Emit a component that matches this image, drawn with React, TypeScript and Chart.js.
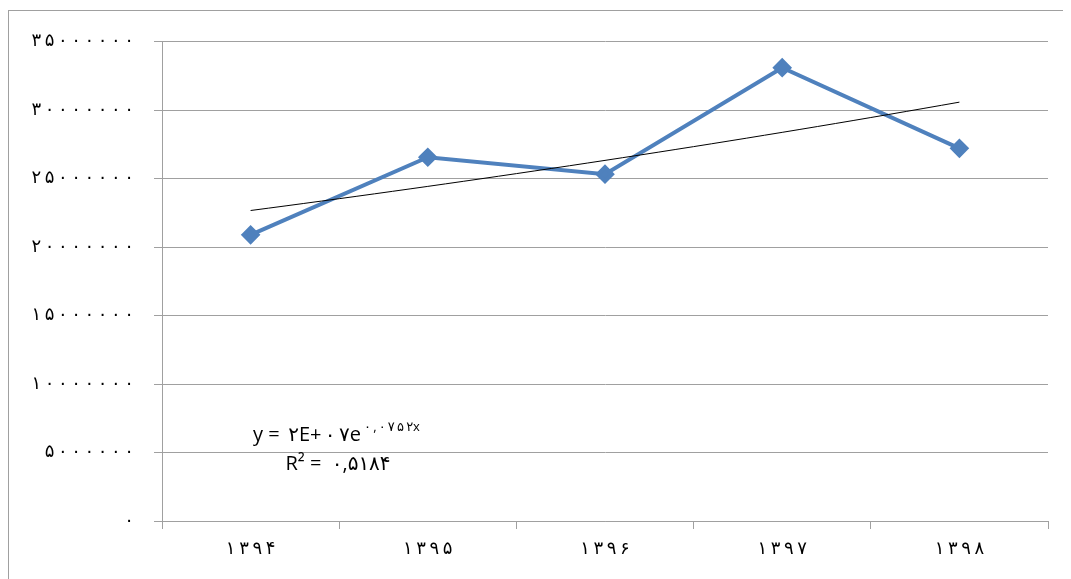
import React, { useEffect, useRef } from "react";
import { Chart, registerables } from "chart.js";

Chart.register(...registerables);

const categories = ["۱۳۹۴", "۱۳۹۵", "۱۳۹۶", "۱۳۹۷", "۱۳۹۸"];
const values = [20900000, 26570000, 25330000, 33110000, 27220000];
const yMin = 0;
const yMax = 35000000;
const yStep = 5000000;
const equationMain = "y = ۲E+۰۷e";
const equationExp = "۰,۰۷۵۲x";
const rSquaredText = "R² =  ۰,۵۱۸۴";

const faDigits = ["۰", "۱", "۲", "۳", "۴", "۵", "۶", "۷", "۸", "۹"];
const toFa = (v: number) => String(v).replace(/[0-9]/g, (d) => faDigits[+d]);
const spaced = (s: string) => s.split("").join("\u2009");
const spaceDigits = (s: string) => s.replace(/([۰-۹,])/g, "\u2009$1");

// exponential least-squares fit (as a spreadsheet trendline does)
function expFit(ys: number[]) {
  const n = ys.length;
  const xs = ys.map((_, i) => i + 1);
  const ls = ys.map((y) => Math.log(y));
  const mx = xs.reduce((a, b) => a + b, 0) / n;
  const ml = ls.reduce((a, b) => a + b, 0) / n;
  let num = 0;
  let den = 0;
  for (let i = 0; i < n; i++) {
    num += (xs[i] - mx) * (ls[i] - ml);
    den += (xs[i] - mx) * (xs[i] - mx);
  }
  const b = num / den;
  const a = Math.exp(ml - b * mx);
  return { a, b };
}

const CANVAS_W = 1057;
const CANVAS_H = 568;

export default function App() {
  const ref = useRef<HTMLCanvasElement | null>(null);

  useEffect(() => {
    if (!ref.current) return;
    const { a, b } = expFit(values);
    const trend: { x: number; y: number }[] = [];
    for (let k = 0; k <= 40; k++) {
      const x = 1 + (k * (values.length - 1)) / 40;
      trend.push({ x, y: a * Math.exp(b * x) });
    }

    const eqPlugin = {
      id: "eq",
      afterDraw(chart: any) {
        const ctx = chart.ctx;
        const ca = chart.chartArea;
        ctx.save();
        ctx.fillStyle = "#000";
        ctx.textBaseline = "alphabetic";
        ctx.textAlign = "left";
        const mainFont = "20px 'Open Sans', 'DejaVu Sans', sans-serif";
        const expFont = "13px 'Open Sans', 'DejaVu Sans', sans-serif";
        const main = spaceDigits(equationMain);
        const exp = spaceDigits(equationExp);
        ctx.font = mainFont;
        const w1 = ctx.measureText(main).width;
        ctx.font = expFont;
        const w2 = ctx.measureText(exp).width;
        const cx = ca.left + 174;
        const x0 = cx - (w1 + w2) / 2;
        const y0 = ca.top + 399;
        ctx.font = mainFont;
        ctx.fillText(main, x0, y0);
        ctx.font = expFont;
        ctx.fillText(exp, x0 + w1 + 1, y0 - 10);
        ctx.font = mainFont;
        ctx.textAlign = "center";
        ctx.fillText(rSquaredText, cx + 2, y0 + 29);
        ctx.restore();
      },
    };

    const chart = new Chart(ref.current, {
      type: "line",
      data: {
        labels: categories,
        datasets: [
          {
            data: values,
            borderColor: "#4F81BD",
            backgroundColor: "#4F81BD",
            borderWidth: 4,
            pointStyle: "rectRot",
            pointRadius: 7,
            pointBackgroundColor: "#4F81BD",
            pointBorderColor: "#4F81BD",
            tension: 0,
            xAxisID: "x",
            order: 1,
          },
          {
            data: trend as any,
            borderColor: "#000000",
            borderWidth: 1,
            pointRadius: 0,
            tension: 0,
            xAxisID: "x2",
            order: 0,
          },
        ],
      },
      options: {
        responsive: false,
        animation: false,
        layout: { padding: { top: 28, right: 18, left: 0, bottom: 0 } },
        plugins: {
          legend: { display: false },
          tooltip: { enabled: false },
          title: { display: false },
        },
        scales: {
          x: {
            type: "category",
            offset: true,
            afterFit: (s: any) => {
              s.height = 58;
            },
            grid: {
              offset: true,
              drawOnChartArea: false,
              drawTicks: true,
              tickLength: 8,
              color: "#A0A0A0",
            },
            border: { color: "#A0A0A0", width: 1 },
            ticks: {
              color: "#000",
              padding: 10,
              maxRotation: 0,
              font: { family: "'DejaVu Sans'", size: 18 },
              callback: (_v: any, i: number) => spaced(categories[i]),
            },
          },
          x2: {
            type: "linear",
            display: false,
            min: 0.5,
            max: values.length + 0.5,
          },
          y: {
            min: yMin,
            max: yMax,
            afterFit: (s: any) => {
              s.width = 153;
            },
            grid: {
              color: "#A0A0A0",
              tickLength: 8,
              drawTicks: true,
            },
            border: { color: "#A0A0A0", width: 1 },
            ticks: {
              stepSize: yStep,
              color: "#000",
              padding: 20,
              font: { family: "'DejaVu Sans'", size: 18 },
              callback: (v: any) => spaced(toFa(Number(v))),
            },
          },
        },
      },
      plugins: [eqPlugin],
    });
    return () => chart.destroy();
  }, []);

  return (
    <div style={{ marginTop: 2, width: 1063, height: 569, overflow: "hidden" }}>
      <div
        style={{
          width: 1100,
          height: 620,
          border: "1px solid #A0A0A0",
          boxSizing: "content-box",
        }}
      >
        <canvas
          ref={ref}
          width={CANVAS_W}
          height={CANVAS_H}
          style={{ display: "block", width: CANVAS_W, height: CANVAS_H }}
        />
      </div>
    </div>
  );
}
